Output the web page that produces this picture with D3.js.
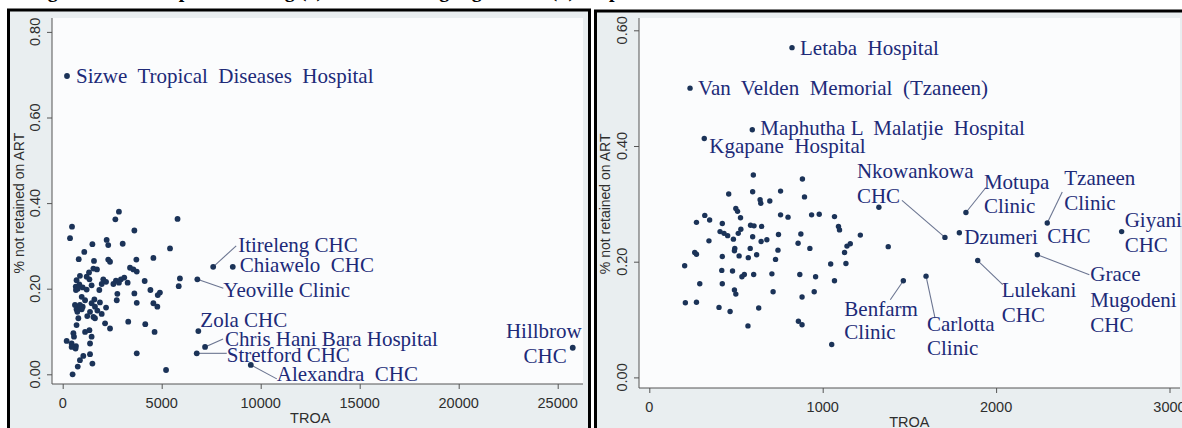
<!DOCTYPE html>
<html><head><meta charset="utf-8">
<script src="https://cdn.jsdelivr.net/npm/d3@7"></script>
<style>body{margin:0;background:#fff} svg{display:block}</style>
</head><body><svg id="c" width="1182" height="428"></svg>
<script>
// ---------------- DATA ----------------
// Panel (a): unlabeled facilities
const leftTroa = [2840,2660,470,5800,3620,370,2220,1500,3030,2300,1090,5420,810,1580,2300,2390,3720,4580,1730,1330,3400,3570,3740,870,700,1350,2050,2190,2690,2940,3110,3280,4140,5920,660,1010,1210,1460,1850,2560,2840,5860,670,4430,4910,4800,3620,2760,1600,960,1130,1460,1880,2730,3740,4580,4780,790,700,1010,1630,2190,1380,1750,1240,1550,1970,790,3310,2140,2390,4170,4640,700,540,1130,1350,1460,200,450,670,1380,650,3740,1040,1380,870,1500,760,500,5220,840,760,870,620,960,740,1210,1550,1970,450,570,1630];
const leftRate = [.380,.362,.345,.363,.336,.318,.314,.304,.305,.302,.286,.294,.269,.265,.268,.263,.268,.272,.245,.238,.249,.245,.240,.230,.220,.222,.222,.216,.219,.222,.226,.214,.218,.224,.205,.203,.198,.208,.197,.211,.214,.206,.197,.197,.191,.185,.189,.188,.175,.181,.173,.166,.168,.173,.167,.166,.158,.158,.152,.158,.158,.156,.146,.149,.136,.134,.141,.131,.123,.119,.107,.117,.099,.115,.096,.099,.103,.088,.078,.072,.066,.072,.060,.049,.043,.047,.033,.025,.018,.000,.010,.210,.200,.162,.162,.152,.146,.228,.247,.211,.064,.088,.131];
// Panel (a): labeled facilities
const leftNames = [["Sizwe  Tropical  Diseases  Hospital"],["Itireleng CHC"],["Chiawelo  CHC"],["Yeoville Clinic"],["Zola CHC"],["Chris Hani Bara Hospital"],["Stretford CHC"],["Alexandra  CHC"],["Hillbrow","CHC"]];
const leftNamedTroa = [217,7600,8590,6800,6850,7190,6770,9500,25760];
const leftNamedRate = [.697,.251,.251,.222,.101,.064,.049,.022,.062];

// Panel (b): unlabeled facilities
const rightTroa = [600,883,458,596,757,895,639,643,695,499,509,526,320,348,272,421,757,800,936,980,1068,1091,1097,1217,1324,1378,584,604,648,528,513,408,431,452,485,745,874,596,344,645,678,858,742,493,926,1140,1159,1126,262,272,582,421,491,518,571,619,728,204,418,480,548,534,602,707,868,959,1046,1134,1068,291,421,491,499,714,881,951,208,272,402,466,631,860,881,569,1052];
const rightRate = [.350,.343,.317,.321,.322,.312,.307,.301,.305,.292,.287,.276,.280,.272,.268,.266,.281,.277,.281,.282,.278,.261,.255,.246,.294,.226,.263,.262,.261,.256,.249,.252,.249,.245,.239,.247,.248,.243,.236,.235,.238,.232,.220,.223,.223,.227,.231,.216,.216,.213,.223,.209,.219,.210,.207,.212,.204,.193,.185,.184,.178,.174,.178,.179,.178,.174,.196,.197,.167,.162,.162,.151,.144,.148,.139,.148,.129,.130,.121,.114,.120,.097,.091,.089,.057];
// Panel (b): labeled facilities
const rightNames = [["Letaba  Hospital"],["Van  Velden  Memorial  (Tzaneen)"],["Maphutha L  Malatjie  Hospital"],["Kgapane  Hospital"],["Nkowankowa","CHC"],["Motupa","Clinic"],["Dzumeri"],["Tzaneen","Clinic","CHC"],["Giyani","CHC"],["Grace","Mugodeni","CHC"],["Lulekani","CHC"],["Benfarm","Clinic"],["Carlotta","Clinic"]];
const rightNamedTroa = [823,235,594,317,1705,1826,1788,2295,2724,2238,1894,1465,1596];
const rightNamedRate = [.570,.500,.428,.413,.242,.285,.250,.267,.252,.212,.202,.167,.175];

const leftXTicks = [0,5000,10000,15000,20000,25000];
const leftYTicks = [0,0.2,0.4,0.6,0.8];
const rightXTicks = [0,1000,2000,3000];
const rightYTicks = [0,0.2,0.4,0.6];
const xTitle = "TROA", yTitle = "% not retained on ART";

// ---------------- LAYOUT (label placement relative to marker, px) ----------------
const leftLayout = [
  {dx:9, dy:7.5},
  {dx:25, dy:-15, lx:23, ly:-21},
  {dx:7, dy:5},
  {dx:26, dy:17.5, lx:26, ly:9},
  {dx:2, dy:-4.5},
  {dx:20, dy:-1, lx:18, ly:-8},
  {dx:30, dy:9, lx:30, ly:0},
  {dx:26, dy:16.5, lx:26, ly:14},
  {dx:[9,-6], dy:-9.5, gap:25, anchor:"end"}
];
const rightLayout = [
  {dx:8, dy:7},
  {dx:8, dy:7},
  {dx:8, dy:5},
  {dx:5, dy:15},
  {dx:-88, dy:-59, gap:24.5, lx:-43, ly:-37},
  {dx:18, dy:-23.5, gap:24, lx:20, ly:-25},
  {dx:5, dy:11},
  {dx:[17,17,0], dy:-37.5, gap:[25,33], lx:15, ly:-31},
  {dx:3, dy:-4.5, gap:24.5},
  {dx:53, dy:26.5, gap:25.5, lx:52, ly:20},
  {dx:24, dy:36.5, gap:24.5, lx:25, ly:24},
  {dx:-59, dy:35, gap:23.5, lx:-13, ly:19},
  {dx:1, dy:55, gap:24, lx:9, ly:42}
];

const panels = [
  {rect:[8.5,10,581,440], plot:[52,583,18,384], xDom:[0,25000], xRng:[62.7,557.7], yDom:[0,0.8], yRng:[374.3,31.9],
   xt:leftXTicks, yt:leftYTicks, tickLblX:35, titleX:19, xTickBase:408, xTitleBase:423,
   px:leftTroa, py:leftRate, names:leftNames, nx:leftNamedTroa, ny:leftNamedRate, layout:leftLayout, r:2.9},
  {rect:[595.5,11,600,440], plot:[639,1180,18,388], xDom:[0,3000], xRng:[649.3,1169.5], yDom:[0,0.6], yRng:[377.4,30.3],
   xt:rightXTicks, yt:rightYTicks, tickLblX:622, titleX:605, xTickBase:412, xTitleBase:427,
   px:rightTroa, py:rightRate, names:rightNames, nx:rightNamedTroa, ny:rightNamedRate, layout:rightLayout, r:2.7}
];

// ---------------- DRAW ----------------
const svg = d3.select('#c');
const MARK = "#1b3358", TXT = "#202a78", LINE = "#6b7591", AX = "#555", AXTXT = "#2e2e2e";
const serif = "'Liberation Serif','Times New Roman',serif";
const sans = "'Liberation Sans',Arial,sans-serif";

// cut-off caption at very top
svg.append("text").attr("x",30).attr("y",-3.5).attr("font-family",serif).attr("font-weight","bold")
  .attr("font-size",20).attr("fill","#000")
  .text("Figure 2: Scatter plots showing (a) Johannesburg region and (b) Mopani district");

panels.forEach(p => {
  const g = svg.append("g");
  const [rx,ry,rw,rh] = p.rect;
  g.append("rect").attr("x",rx).attr("y",ry).attr("width",rw).attr("height",rh)
    .attr("fill","#e9eef0").attr("stroke","#000").attr("stroke-width",3);
  const [x0,x1,y0,y1] = p.plot;
  g.append("rect").attr("x",x0).attr("y",y0).attr("width",x1-x0).attr("height",y1-y0).attr("fill","#fbfcfd");

  const x = d3.scaleLinear().domain(p.xDom).range(p.xRng);
  const y = d3.scaleLinear().domain(p.yDom).range(p.yRng);

  const xa = g.append("g").attr("transform",`translate(0,${y1})`)
    .call(d3.axisBottom(x).tickValues(p.xt).tickSize(5).tickFormat(d3.format("d")));
  xa.select(".domain").attr("d",`M${x0},0H${x1}`).attr("stroke",AX);
  xa.selectAll("line").attr("stroke",AX);
  xa.selectAll("text").remove();
  g.selectAll(".xl").data(p.xt).join("text").attr("x",d=>x(d)).attr("y",p.xTickBase)
    .attr("text-anchor","middle").attr("font-family",sans).attr("font-size",14.5).attr("fill",AXTXT).text(d=>d);
  g.append("text").attr("x",(p.xRng[0]+p.xRng[1])/2).attr("y",p.xTitleBase).attr("text-anchor","middle")
    .attr("font-family",sans).attr("font-size",14.5).attr("fill",AXTXT).text(xTitle);

  const ya = g.append("g").attr("transform",`translate(${x0},0)`)
    .call(d3.axisLeft(y).tickValues(p.yt).tickSize(5));
  ya.select(".domain").attr("d",`M0,${y0}V${y1}`).attr("stroke",AX);
  ya.selectAll("line").attr("stroke",AX);
  ya.selectAll("text").remove();
  g.selectAll(".yl").data(p.yt).join("text")
    .attr("transform",d=>`translate(${p.tickLblX+5},${y(d)}) rotate(-90)`)
    .attr("text-anchor","middle").attr("font-family",sans).attr("font-size",14.5).attr("fill",AXTXT)
    .text(d=>d3.format(".2f")(d));
  g.append("text").attr("transform",`translate(${p.titleX+5},${(p.yRng[0]+p.yRng[1])/2}) rotate(-90)`)
    .attr("text-anchor","middle").attr("font-family",sans).attr("font-size",14).attr("fill",AXTXT).text(yTitle);

  p.names.forEach((nm,i) => {
    const L = p.layout[i];
    if (L.lx === undefined) return;
    const cx = x(p.nx[i]), cy = y(p.ny[i]);
    g.append("line").attr("x1",cx).attr("y1",cy).attr("x2",cx+L.lx).attr("y2",cy+L.ly)
      .attr("stroke",LINE).attr("stroke-width",1.1);
  });

  const pts = p.px.map((v,i)=>[v,p.py[i]]).concat(p.nx.map((v,i)=>[v,p.ny[i]]));
  g.selectAll("circle.m").data(pts).join("circle").attr("cx",d=>x(d[0])).attr("cy",d=>y(d[1]))
    .attr("r",p.r).attr("fill",MARK);

  p.names.forEach((nm,i) => {
    const L = p.layout[i];
    const cx = x(p.nx[i]), cy = y(p.ny[i]);
    let yy = cy + L.dy;
    nm.forEach((line,k) => {
      const dx = Array.isArray(L.dx) ? L.dx[k] : L.dx;
      if (k>0) yy += Array.isArray(L.gap) ? L.gap[k-1] : L.gap;
      g.append("text").attr("x",cx+dx).attr("y",yy).attr("text-anchor",L.anchor||"start")
        .attr("font-family",serif).attr("font-size",21).attr("fill",TXT)
        .style("white-space","pre").text(line);
    });
  });
});
</script></body></html>
